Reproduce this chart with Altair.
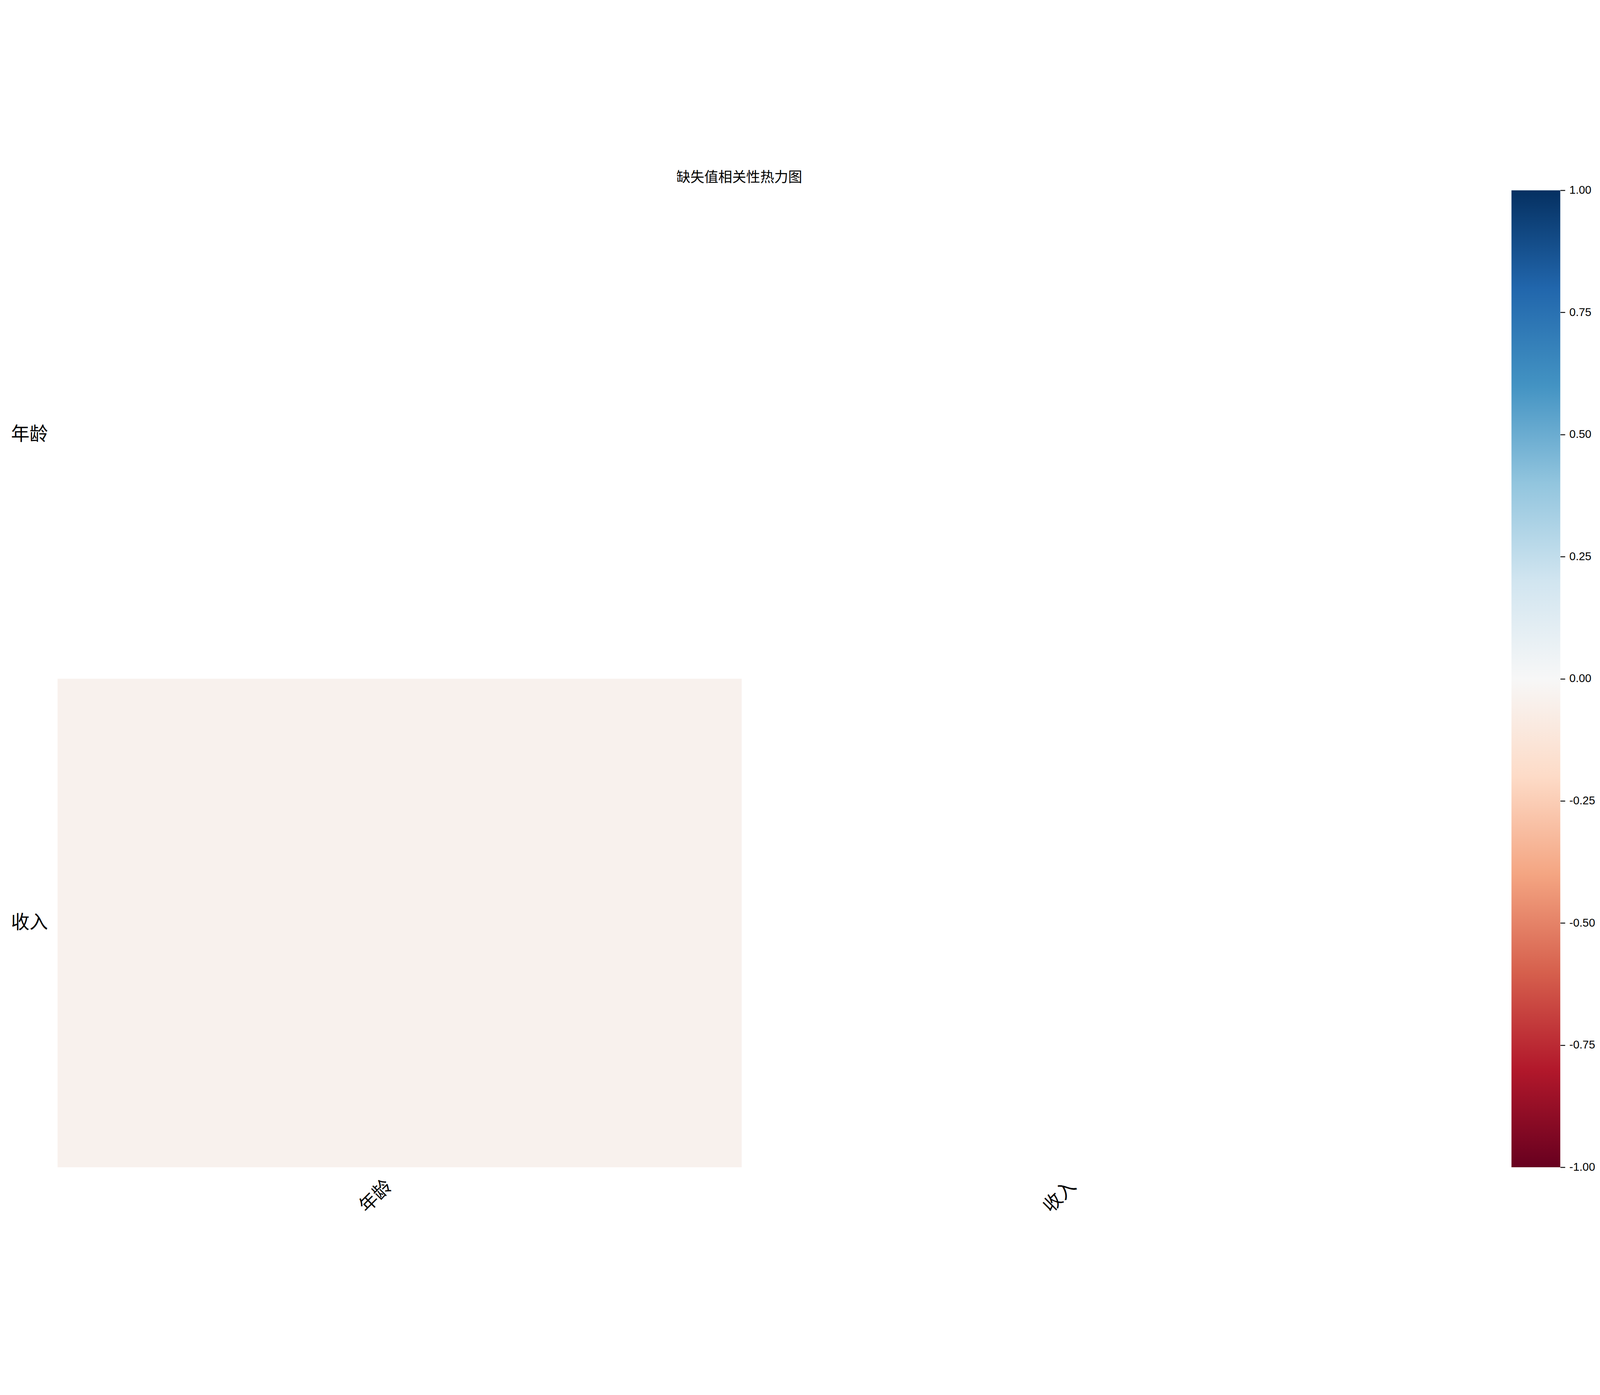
import altair as alt
import pandas as pd

# Variables in the missing-value correlation matrix
columns = ["年龄", "收入"]

# Only the lower triangle (below the diagonal) is drawn
pair_x = ["年龄"]
pair_y = ["收入"]
pair_corr = [-0.04]

# Colour bar
corr_range = [-1.0, 1.0]
tick_values = [-1.0, -0.75, -0.5, -0.25, 0.0, 0.25, 0.5, 0.75, 1.0]

# matplotlib RdBu
RDBU = ["#67001f", "#b2182b", "#d6604d", "#f4a582", "#fddbc7", "#f7f7f7",
        "#d1e5f0", "#92c5de", "#4393c3", "#2166ac", "#053061"]
RDBU_DOMAIN = [-1.0, -0.8, -0.6, -0.4, -0.2, 0.0, 0.2, 0.4, 0.6, 0.8, 1.0]

CJK = "Noto Sans CJK SC"
LATIN = "Liberation Sans"

heat_df = pd.DataFrame({"x": pair_x, "y": pair_y, "corr": pair_corr})

heat = alt.Chart(heat_df).mark_rect().encode(
    x=alt.X("x:N", title=None,
            scale=alt.Scale(domain=columns, paddingInner=0, paddingOuter=0),
            axis=alt.Axis(labelAngle=-45, labelAlign="right", labelBaseline="middle",
                          labelFont=CJK, labelFontSize=62, labelColor="black",
                          labelPadding=54, labelOffset=-36,
                          ticks=False, domain=False, grid=False)),
    y=alt.Y("y:N", title=None,
            scale=alt.Scale(domain=columns, paddingInner=0, paddingOuter=0),
            axis=alt.Axis(labelFont=CJK, labelFontSize=62, labelColor="black",
                          labelPadding=33, ticks=False, domain=False, grid=False)),
    color=alt.Color("corr:Q", legend=None,
                    scale=alt.Scale(domain=RDBU_DOMAIN, range=RDBU, interpolate="rgb")),
).properties(width=4598, height=3283)

# colour bar drawn as a gradient-filled rect on its own -1..1 axis
bar_df = pd.DataFrame({"lo": [corr_range[0]], "hi": [corr_range[1]]})
grad = alt.Gradient(
    gradient="linear",
    stops=[alt.GradientStop(color=c, offset=(d + 1) / 2) for c, d in zip(RDBU, RDBU_DOMAIN)],
    x1=0, x2=0, y1=1, y2=0,
)

colorbar = alt.Chart(bar_df).mark_rect(color=grad).encode(
    x=alt.value(0),
    x2=alt.value(164),
    y=alt.Y("lo:Q", title=None,
            scale=alt.Scale(domain=corr_range, nice=False, zero=False),
            axis=alt.Axis(orient="right", values=tick_values,
                          labelExpr="replace(format(datum.value, '.2f'), '\u2212', '-')",
                          labelFont=LATIN, labelFontSize=38, labelColor="black",
                          labelPadding=14, tickSize=16, tickWidth=3, tickColor="black",
                          domain=False, grid=False, labelFlush=False)),
    y2="hi:Q",
).properties(width=164, height=3283)

chart = alt.hconcat(heat, colorbar, spacing=288, bounds="flush").properties(
    title=alt.TitleParams("缺失值相关性热力图", font=CJK, fontSize=47, fontWeight="normal",
                          color="black", anchor="middle", dx=-214, offset=-2),
    padding={"left": 25, "top": 11, "right": 5, "bottom": 5},
).configure_view(stroke="transparent")

chart.save("out.html", embed_options={"renderer": "svg", "actions": False})
